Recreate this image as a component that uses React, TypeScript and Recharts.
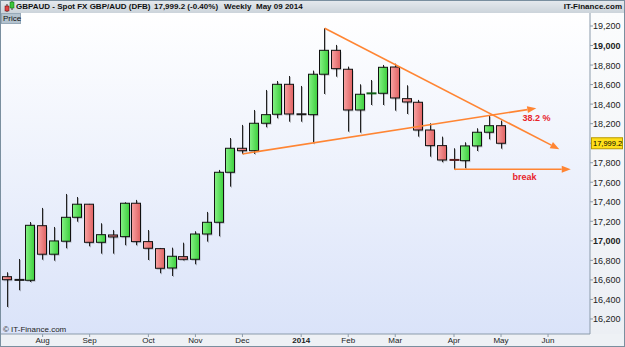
import React from 'react';
import { ComposedChart, Bar, XAxis, YAxis, ReferenceLine, ReferenceDot } from 'recharts';

// weekly candles, GBP/AUD spot (week start dates)
const weeks = [
  '2013-07-15', '2013-07-22', '2013-07-29', '2013-08-05', '2013-08-12', '2013-08-19', '2013-08-26',
  '2013-09-02', '2013-09-09', '2013-09-16', '2013-09-23', '2013-09-30', '2013-10-07', '2013-10-14',
  '2013-10-21', '2013-10-28', '2013-11-04', '2013-11-11', '2013-11-18', '2013-11-25', '2013-12-02',
  '2013-12-09', '2013-12-16', '2013-12-23', '2013-12-30', '2014-01-06', '2014-01-13', '2014-01-20',
  '2014-01-27', '2014-02-03', '2014-02-10', '2014-02-17', '2014-02-24', '2014-03-03', '2014-03-10',
  '2014-03-17', '2014-03-24', '2014-03-31', '2014-04-07', '2014-04-14', '2014-04-21', '2014-04-28',
  '2014-05-05',
];
const opens = [
  16633, 16600, 16596, 17155, 16863, 16996, 17241, 17375, 16985, 17060, 17043, 17385, 16992, 16920,
  16722, 16838, 16811, 17070, 17190, 17702, 17948, 17923, 18204, 18296, 18603, 18296, 18292, 18706,
  18951, 18757, 18340, 18508, 18511, 18780, 18456, 18419, 18135, 17975, 17830, 17821, 17972, 18112,
  18179,
];
const highs = [
  16678, 16814, 17193, 17337, 17142, 17480, 17449, 17378, 17180, 17111, 17395, 17419, 17111, 16927,
  16930, 16981, 17098, 17296, 17726, 18053, 18187, 18340, 18545, 18637, 18688, 18586, 18743, 19177,
  19006, 18784, 18603, 18647, 18801, 18814, 18593, 18443, 18204, 18067, 17948, 18009, 18153, 18282,
  18231,
];
const lows = [
  16323, 16494, 16579, 16807, 16797, 16924, 17196, 16944, 16869, 16869, 16955, 16955, 16804, 16668,
  16640, 16800, 16760, 16992, 17047, 17555, 17890, 17890, 18163, 18255, 18220, 18220, 17999, 18504,
  18681, 18118, 18108, 18391, 18391, 18333, 18299, 18067, 17862, 17805, 17733, 17743, 17920, 18040,
  17944,
];
const closes = [
  16602, 16600, 17159, 16863, 16999, 17241, 17375, 16985, 17063, 17040, 17385, 16992, 16924, 16719,
  16842, 16811, 17070, 17190, 17702, 17948, 17923, 18204, 18292, 18603, 18299, 18296, 18706, 18951,
  18763, 18340, 18501, 18512, 18777, 18463, 18422, 18135, 17975, 17828, 17827, 17972, 18112, 18179,
  17999.2,
];

// month ticks (index of first week in month) and labels
const monthTicks = [3, 7, 12, 16, 20, 25, 29, 33, 38, 42, 46];
const monthLabels = ['Aug', 'Sep', 'Oct', 'Nov', 'Dec', '2014', 'Feb', 'Mar', 'Apr', 'May', 'Jun'];

const priceTicks = [16200, 16400, 16600, 16800, 17000, 17200, 17400, 17600, 17800, 18000, 18200, 18400, 18600, 18800, 19000, 19200];
const lastPrice = 17999.2;

// hand drawn trend lines: [week index, price]
const resistanceLine = [[27, 19177], [46.96, 17938]];
const supportLine = [[20, 17890], [45, 18358]];
const breakLine = [[38, 17733], [47.93, 17733]];

// annotation texts: [week index, price, text]
const notes: [number, number, string][] = [
  [45.02, 18261, '38.2 %'],
  [44.0, 17651, 'break'],
];

const data = weeks.map((w, i) => ({
  i,
  week: w,
  open: opens[i],
  high: highs[i],
  low: lows[i],
  close: closes[i],
  range: [lows[i], highs[i]],
}));

const FONT = "'Liberation Sans', Arial, sans-serif";
const ORANGE = '#ff8533';

const Candle = (props: any) => {
  const { x, y, width, height, payload } = props;
  const { open, close, high, low } = payload;
  const top0 = Math.min(y, y + height);
  const h = Math.abs(height);
  const k = h / (high - low);
  const cx = Math.round(x + width / 2) + 0.5;
  const yOf = (v: number) => top0 + (high - v) * k;
  const bTop = yOf(Math.max(open, close));
  const bBot = yOf(Math.min(open, close));
  const up = close > open;
  const flat = Math.abs(close - open) < 8;
  const wickTop = yOf(high);
  const wickBot = yOf(low);
  if (flat) {
    const col = close > open ? '#0d5e12' : close < open ? '#5a1c1c' : '#1a1a1a';
    const ym = (bTop + bBot) / 2;
    return (
      <g>
        <line x1={cx + 1} x2={cx + 1} y1={wickTop + 1} y2={wickBot + 1} stroke="#000" strokeOpacity={0.25} />
        <line x1={cx} x2={cx} y1={wickTop} y2={wickBot} stroke="#222" />
        <rect x={cx - 5} y={ym - 1} width={10} height={2} fill={col} />
      </g>
    );
  }
  return (
    <g>
      <line x1={cx + 1} x2={cx + 1} y1={wickTop + 1} y2={wickBot + 1} stroke="#000" strokeOpacity={0.25} />
      <line x1={cx} x2={cx} y1={wickTop} y2={wickBot} stroke="#222" />
      <rect x={cx - 4} y={bTop + 1.5} width={9} height={bBot - bTop} fill="#000" fillOpacity={0.2} />
      <rect
        x={cx - 5}
        y={bTop}
        width={9}
        height={Math.max(bBot - bTop, 1)}
        fill={up ? 'url(#gUp)' : 'url(#gDown)'}
        stroke="#111"
        strokeWidth={1}
      />
    </g>
  );
};

const TrendArrow = (props: any) => {
  const { x1, y1, x2, y2 } = props;
  const a = Math.atan2(y2 - y1, x2 - x1);
  const L = 9;
  const W = 3.5;
  const bx = x2 - L * Math.cos(a);
  const by = y2 - L * Math.sin(a);
  const pts = `${x2},${y2} ${bx + W * Math.sin(a)},${by - W * Math.cos(a)} ${bx - W * Math.sin(a)},${by + W * Math.cos(a)}`;
  return (
    <g>
      <line x1={x1} y1={y1} x2={bx} y2={by} stroke={ORANGE} strokeWidth={1.6} />
      <polygon points={pts} fill={ORANGE} />
    </g>
  );
};

const PriceTick = (props: any) => {
  const { x, y, payload } = props;
  const v = payload.value;
  if (v === lastPrice) {
    return (
      <g>
        <rect x={x - 1.5} y={y - 5.5} width={31} height={11} fill="#ffdf1a" stroke="#b89a00" />
        <text x={x} y={y + 3} fontSize={7.5} fill="#000" style={{ fontFamily: FONT }}>
          {v.toLocaleString('en-US', { minimumFractionDigits: 1 })}
        </text>
      </g>
    );
  }
  return (
    <text
      x={x}
      y={y + 3.5}
      fontSize={9}
      fontWeight={v % 1000 === 0 ? 'bold' : 'normal'}
      fill="#222"
      style={{ fontFamily: FONT }}
    >
      {v.toLocaleString('en-US')}
    </text>
  );
};

const MonthTick = (props: any) => {
  const { x, y, payload } = props;
  const label = monthLabels[monthTicks.indexOf(payload.value)];
  return (
    <text
      x={x}
      y={y + 6}
      textAnchor="middle"
      fontSize={8}
      fontWeight={label === '2014' ? 'bold' : 'normal'}
      fill="#222"
      style={{ fontFamily: FONT }}
    >
      {label}
    </text>
  );
};

const HeaderIcon = () => (
  <svg width={12} height={12} style={{ position: 'absolute', left: 3, top: 1 }}>
    <line x1={4} x2={4} y1={3} y2={11} stroke="#333" />
    <rect x={2} y={5} width={4} height={5} fill="#e04545" stroke="#600" strokeWidth={0.5} />
    <line x1={9} x2={9} y1={0} y2={9} stroke="#333" />
    <rect x={7} y={1} width={4} height={6} fill="#3cc63c" stroke="#060" strokeWidth={0.5} />
  </svg>
);

export default function App() {
  const visibleTicks = [...priceTicks.filter((t) => Math.abs(t - lastPrice) > 50), lastPrice];
  const seg = (l: number[][]) => [
    { x: l[0][0], y: l[0][1] },
    { x: l[1][0], y: l[1][1] },
  ];
  return (
    <div
      style={{
        position: 'fixed',
        left: 0,
        top: 0,
        width: 625,
        height: 347,
        fontFamily: FONT,
        background: '#eef1f5',
        overflow: 'hidden',
      }}
    >
      {/* header bar */}
      <div
        style={{
          position: 'absolute',
          left: 0,
          top: 0,
          width: 625,
          height: 13,
          background: 'linear-gradient(#e6eaee, #ccd4db)',
          fontSize: 8,
          fontWeight: 'bold',
          lineHeight: '13px',
          color: '#111',
          whiteSpace: 'nowrap',
        }}
      >
        <HeaderIcon />
        <span style={{ position: 'absolute', left: 16 }}>GBPAUD - Spot FX GBP/AUD (DFB)</span>
        <span style={{ position: 'absolute', left: 154 }}>17,999.2 (-0.40%)</span>
        <span style={{ position: 'absolute', left: 224 }}>Weekly</span>
        <span style={{ position: 'absolute', left: 256 }}>May 09 2014</span>
        <span style={{ position: 'absolute', right: 3 }}>IT-Finance.com</span>
      </div>
      {/* plot background */}
      <div
        style={{
          position: 'absolute',
          left: 1,
          top: 13,
          width: 589,
          height: 321,
          background: 'linear-gradient(#ffffff, #dae3f9)',
        }}
      />
      <div
        style={{
          position: 'absolute',
          left: 590,
          top: 13,
          width: 35,
          height: 321,
          background: 'linear-gradient(#fbfcfd, #eceff4)',
        }}
      />
      <div style={{ position: 'absolute', left: 0, top: 0 }}>
        <ComposedChart width={625} height={347} data={data} margin={{ top: 13, right: 0, bottom: 0, left: 1 }}>
          <defs>
            <linearGradient id="gUp" x1="0" y1="0" x2="1" y2="0">
              <stop offset="0%" stopColor="#86f286" />
              <stop offset="100%" stopColor="#3ccf3c" />
            </linearGradient>
            <linearGradient id="gDown" x1="0" y1="0" x2="1" y2="0">
              <stop offset="0%" stopColor="#f8a3a3" />
              <stop offset="100%" stopColor="#e06262" />
            </linearGradient>
          </defs>
          <XAxis
            dataKey="i"
            type="number"
            domain={[-0.54, 49.57]}
            allowDataOverflow
            ticks={monthTicks}
            interval={0}
            height={13}
            tickSize={3}
            tickMargin={0}
            tick={<MonthTick />}
            stroke="#8b9bab"
          />
          <YAxis
            orientation="right"
            type="number"
            domain={[16046, 19333]}
            allowDataOverflow
            ticks={visibleTicks}
            interval={0}
            width={35}
            tickSize={3}
            tickMargin={0}
            tick={<PriceTick />}
            stroke="#8b9bab"
          />
          <Bar dataKey="range" barSize={11} shape={<Candle />} isAnimationActive={false} />
          <ReferenceLine segment={seg(supportLine)} shape={(p: any) => <TrendArrow {...p} />} />
          <ReferenceLine segment={seg(resistanceLine)} shape={(p: any) => <TrendArrow {...p} />} />
          <ReferenceLine segment={seg(breakLine)} shape={(p: any) => <TrendArrow {...p} />} />
          {notes.map(([x, y, t]) => (
            <ReferenceDot
              key={t}
              x={x}
              y={y}
              r={0}
              stroke="none"
              label={{ value: t, position: 'center', fill: '#e8232b', fontSize: 9, fontWeight: 'bold', fontFamily: FONT }}
            />
          ))}
        </ComposedChart>
      </div>
      <div
        style={{
          position: 'absolute',
          left: 1,
          top: 13,
          width: 17,
          height: 9,
          background: '#b4c3cf',
          border: '1px solid #97a9b8',
          fontSize: 8,
          lineHeight: '9px',
          color: '#111',
          paddingLeft: 1,
        }}
      >
        Price
      </div>
      <div style={{ position: 'absolute', left: 3, top: 325, fontSize: 8, color: '#222' }}>© IT-Finance.com</div>
      <div
        style={{
          position: 'absolute',
          left: 0,
          top: 0,
          width: 625,
          height: 347,
          boxSizing: 'border-box',
          border: '1px solid #7a8f9f',
          pointerEvents: 'none',
        }}
      />
    </div>
  );
}
